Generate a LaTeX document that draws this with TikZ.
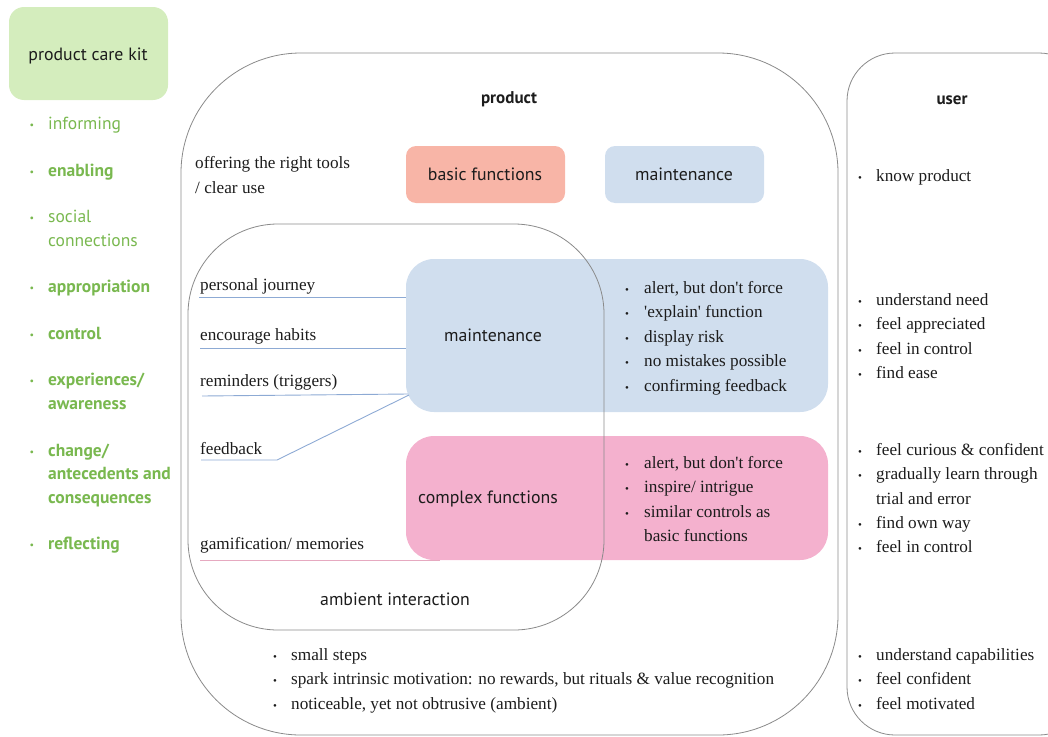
\documentclass[tikz,border=0pt]{standalone}
\usepackage{fontspec}
\usetikzlibrary{calc}
\setmainfont{Liberation Serif}
\newfontfamily\uisans{PT Sans}

\definecolor{kitfill}{HTML}{D4EDBD}
\definecolor{kitgreen}{HTML}{79B84F}
\definecolor{framegray}{HTML}{8A8A8A}
\definecolor{inkblack}{HTML}{1C1C1C}
\definecolor{maintfill}{HTML}{D0DEEE}
\definecolor{basicfill}{HTML}{F8B5A7}
\definecolor{complexfill}{HTML}{F4B1CE}
\definecolor{linkblue}{HTML}{8DAAD4}
\definecolor{linkpink}{HTML}{E6A9C0}

\begin{document}
\begin{tikzpicture}[x=1pt,y=-1pt,
  frame/.style={draw=framegray,line width=0.8pt,inner sep=0pt},
  card/.style={inner sep=0pt,outer sep=0pt},
  serif/.style={font=\fontsize{17.2}{20}\selectfont,anchor=base west,inner sep=0pt,text=inkblack},
  dot/.style={font=\fontsize{11}{11}\selectfont,anchor=base,inner sep=0pt,text=inkblack},
  sanslbl/.style={font=\uisans\fontsize{17.8}{20}\selectfont,anchor=base,inner sep=0pt,text=inkblack},
  headlbl/.style={font=\uisans\bfseries\fontsize{17}{20}\selectfont,anchor=base,inner sep=0pt,text=inkblack},
  kititem/.style={font=\uisans\fontsize{17.5}{20}\selectfont,text=kitgreen,anchor=base west,inner sep=0pt},
  kitdot/.style={font=\uisans\fontsize{10}{10}\selectfont,text=kitgreen,anchor=base,inner sep=0pt},
  link/.style={draw=linkblue,line width=0.9pt},
  pinklink/.style={draw=linkpink,line width=0.9pt}]

\useasboundingbox (0,0) rectangle (1048,736);
\clip (0,0) rectangle (1048,736);

% kit card and its list
\node[card,fill=kitfill,rounded corners=15pt,minimum width=159pt,minimum height=93pt] (kit) at (88.5,53.5) {};
\node[sanslbl] (kitlbl) at (88,60) {product care kit};
\foreach \t/\y/\w [count=\i] in {informing/129/\mdseries,enabling/176/\bfseries,social/222/\mdseries,
    connections/246/\mdseries,appropriation/292/\bfseries,control/339/\bfseries,{experiences/}/385/\bfseries,
    awareness/409/\bfseries,{change/}/456/\bfseries,antecedents and/479/\bfseries,consequences/503/\bfseries,
    reflecting/549/\bfseries}{
  \node[kititem] (kit\i) at (48,\y) {\w\t};
}
\foreach \y [count=\i] in {129,176,222,292,339,385,456,549}{
  \node[kitdot] (kitdot\i) at (32,\y-1) {•};
}

% outer frames
\node[frame,rounded corners=120pt,minimum width=657pt,minimum height=682pt] (product) at (509.5,394) {};
\node[frame,rounded corners=48pt,minimum width=240pt,minimum height=682pt] (user) at (967,394) {};
\node[headlbl] (productlbl) at (509,103) {product};
\node[headlbl] (userlbl) at (952,104) {user};

% function cards
\node[card,fill=basicfill,rounded corners=10pt,minimum width=159pt,minimum height=57pt] (basic) at (485.5,174.5) {};
\node[card,fill=maintfill,rounded corners=10pt,minimum width=159pt,minimum height=57pt] (mainttop) at (684.5,174.5) {};
\node[sanslbl] (basiclbl) at (485,180) {basic functions};
\node[sanslbl] (mainttoplbl) at (684,180) {maintenance};
\node[card,fill=maintfill,rounded corners=28pt,minimum width=422pt,minimum height=153pt] (maint) at (617,335.5) {};
\node[card,fill=complexfill,rounded corners=28pt,minimum width=422pt,minimum height=124pt] (complex) at (617,498) {};
\node[sanslbl] (maintlbl) at (493,341) {maintenance};
\node[sanslbl] (complexlbl) at (488,503) {complex functions};

% ambient interaction frame drawn over the cards
\node[frame,rounded corners=90pt,minimum width=416pt,minimum height=406pt] (ambient) at (396,427) {};
\node[sanslbl] (ambientlbl) at (395,605) {ambient interaction};

% left-hand texts
\node[serif] (tools1) at (195,168) {offering the right tools};
\node[serif] (tools2) at (195,193) {/ clear use};
\node[serif] (pj) at (200,290) {personal journey};
\node[serif] (eh) at (200,340) {encourage habits};
\node[serif] (rm) at (200,386) {reminders (triggers)};
\node[serif] (fb) at (200,454) {feedback};
\node[serif] (gm) at (200,549) {gamification/ memories};

% connectors from the labels to the cards
\coordinate (pjend) at (199,297);
\coordinate (ehend) at (200,348);
\coordinate (rmend) at (202,396);
\coordinate (fbend) at (201,460);
\coordinate (gmend) at (200,560);
\draw[link] (pjend) -- (maint.west |- pjend);
\draw[link] (ehend) -- (maint.west |- ehend);
\draw[link] (rmend) -- ($(maint.west |- rmend)+(2,-2)$);
\draw[link] (fbend) -- ++(76,0) -- ($(maint.west |- rmend)+(3,-1)$);
\draw[pinklink] (gmend) -- ($(complex.south west)+(34,0)$);

% bullet lists
\foreach \t/\y [count=\i] in {{alert, but don\textquotesingle t force}/293,
    {\textquotesingle explain\textquotesingle\ function}/317,{display risk}/342,
    {no mistakes possible}/366,{confirming feedback}/391}{
  \node[dot] (mbd\i) at (627,\y) {•};
  \node[serif] (mb\i) at (644,\y) {\t};
}
\foreach \t/\y [count=\i] in {{alert, but don\textquotesingle t force}/468,
    {inspire/ intrigue}/492,{similar controls as}/517}{
  \node[dot] (cbd\i) at (627,\y) {•};
  \node[serif] (cb\i) at (644,\y) {\t};
}
\node[serif] (cb4) at (644,541) {basic functions};

\foreach \t/\y [count=\i] in {{small steps}/660,
    {spark intrinsic motivation: no rewards, but rituals \& value recognition}/684,
    {noticeable, yet not obtrusive (ambient)}/709}{
  \node[dot] (pbd\i) at (275,\y) {•};
  \node[serif] (pb\i) at (291,\y) {\t};
}

\foreach \t/\y [count=\i] in {{know product}/181,{understand need}/305,{feel appreciated}/329,
    {feel in control}/354,{find ease}/378,{feel curious \& confident}/455,
    {gradually learn through}/479,{find own way}/528,{feel in control}/552,
    {understand capabilities}/660,{feel confident}/684,{feel motivated}/709}{
  \node[dot] (ubd\i) at (860,\y) {•};
  \node[serif] (ub\i) at (876,\y) {\t};
}
\node[serif] (ubcont) at (876,504) {trial and error};
\end{tikzpicture}
\end{document}
